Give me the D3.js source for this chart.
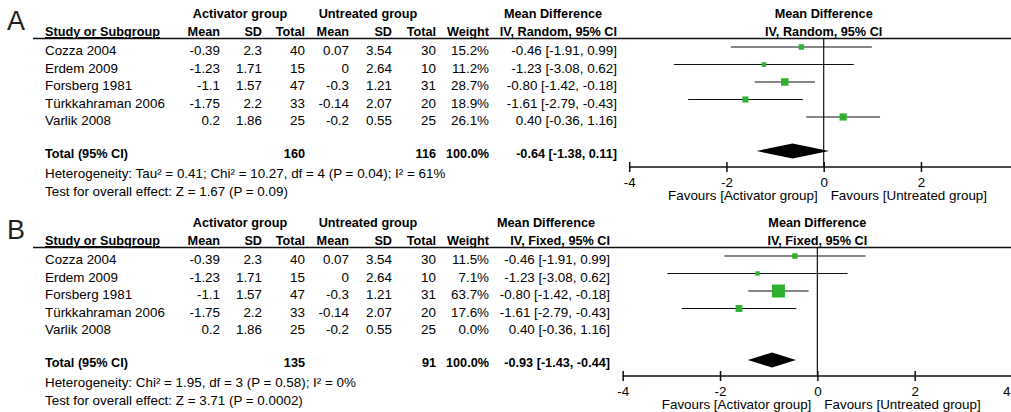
<!DOCTYPE html>
<html>
<head>
<meta charset="utf-8">
<script src="https://cdn.jsdelivr.net/npm/d3@7"></script>
<style>
  body { margin: 0; background: #fff; }
  svg { display: block; font-family: "Liberation Sans", Arial, sans-serif; font-size: 13.4px; fill: #000; }
  .b { font-weight: bold; font-size: 12.7px; }
</style>
</head>
<body>
<svg id="chart" width="1011" height="412"></svg>
<script>
// study data (same five studies in both panels)
var studies = ["Cozza 2004", "Erdem 2009", "Forsberg 1981", "Türkkahraman 2006", "Varlik 2008"];
var actMean = [-0.39, -1.23, -1.1, -1.75, 0.2];
var actSD   = [2.3, 1.71, 1.57, 2.2, 1.86];
var actN    = [40, 15, 47, 33, 25];
var untMean = [0.07, 0, -0.3, -0.14, -0.2];
var untSD   = [3.54, 2.64, 1.21, 2.07, 0.55];
var untN    = [30, 10, 31, 20, 25];
var md      = [-0.46, -1.23, -0.80, -1.61, 0.40];
var ciLow   = [-1.91, -3.08, -1.42, -2.79, -0.36];
var ciHigh  = [0.99, 0.62, -0.18, -0.43, 1.16];

// panel A: random effects
var weightsA = [15.2, 11.2, 28.7, 18.9, 26.1];
var totalA = { act: 160, unt: 116, md: -0.64, lo: -1.38, hi: 0.11 };
var hetA = "Heterogeneity: Tau² = 0.41; Chi² = 10.27, df = 4 (P = 0.04); I² = 61%";
var testA = "Test for overall effect: Z = 1.67 (P = 0.09)";

// panel B: fixed effect
var weightsB = [11.5, 7.1, 63.7, 17.6, 0.0];
var totalB = { act: 135, unt: 91, md: -0.93, lo: -1.43, hi: -0.44 };
var hetB = "Heterogeneity: Chi² = 1.95, df = 3 (P = 0.58); I² = 0%";
var testB = "Test for overall effect: Z = 3.71 (P = 0.0002)";

var ticks = [-4, -2, 0, 2, 4];

var svg = d3.select("#chart");

var fmt2 = function (v) { return v.toFixed(2); };
var ciText = function (m, lo, hi) { return fmt2(m) + " [" + fmt2(lo) + ", " + fmt2(hi) + "]"; };

function drawPanel(p) {
    var g = svg.append("g").attr("transform", "translate(0," + p.top + ")");

    // row positions (text baselines)
    var rowY = d3.scaleLinear().domain([0, 4]).range([55, 125]);
    var x = d3.scaleLinear().domain([-4, 4]).range(p.xRange);

    // panel letter
    g.append("text").attr("x", 7).attr("y", 30)
        .style("font-size", "27px").style("fill", "#231f20").text(p.label);

    // column headers
    g.append("text").attr("class", "b").attr("x", 240).attr("y", 18)
        .attr("text-anchor", "middle").text("Activator group");
    g.append("text").attr("class", "b").attr("x", 368).attr("y", 18)
        .attr("text-anchor", "middle").text("Untreated group");
    g.append("text").attr("class", "b").attr("x", p.mdRight - 64).attr("y", 18)
        .attr("text-anchor", "middle").text("Mean Difference");

    g.append("text").attr("class", "b").attr("x", 45).attr("y", 36)
        .style("text-decoration", "underline").text("Study or Subgroup");
    var cols = [
        ["Mean", 220], ["SD", 262], ["Total", 305],
        ["Mean", 349], ["SD", 392], ["Total", 436],
        ["Weight", 489], [p.mdLabel, p.mdRight]
    ];
    cols.forEach(function (c) {
        g.append("text").attr("class", "b").attr("x", c[1]).attr("y", 36)
            .attr("text-anchor", "end").text(c[0]);
    });

    // plot headers
    g.append("text").attr("class", "b").attr("x", x(0)).attr("y", 18)
        .attr("text-anchor", "middle").text("Mean Difference");
    g.append("text").attr("class", "b").attr("x", x(0)).attr("y", 36)
        .attr("text-anchor", "middle").text(p.mdLabel);

    // header rule
    g.append("line").attr("x1", 33).attr("x2", 1011).attr("y1", 38.5).attr("y2", 38.5)
        .attr("stroke", "#111").attr("stroke-width", 1.5);

    // study rows
    studies.forEach(function (s, i) {
        var y = rowY(i);
        g.append("text").attr("x", 45).attr("y", y).text(s);
        var vals = [
            [String(actMean[i]), 220], [String(actSD[i]), 262], [String(actN[i]), 305],
            [String(untMean[i]), 349], [String(untSD[i]), 392], [String(untN[i]), 436],
            [p.weights[i].toFixed(1) + "%", 489], [ciText(md[i], ciLow[i], ciHigh[i]), p.mdRight]
        ];
        vals.forEach(function (v) {
            g.append("text").attr("x", v[1]).attr("y", y).attr("text-anchor", "end").text(v[0]);
        });
    });

    // totals
    var ty = 158;
    g.append("text").attr("class", "b").attr("x", 45).attr("y", ty).text("Total (95% CI)");
    [[String(p.total.act), 305], [String(p.total.unt), 436], ["100.0%", 489],
     [ciText(p.total.md, p.total.lo, p.total.hi), p.mdRight]].forEach(function (v) {
        g.append("text").attr("class", "b").attr("x", v[1]).attr("y", ty)
            .attr("text-anchor", "end").text(v[0]);
    });
    g.append("text").attr("x", 45).attr("y", 178).text(p.het);
    g.append("text").attr("x", 45).attr("y", 196).text(p.test);

    // forest plot
    var axisY = 167;
    g.append("line").attr("x1", x(0)).attr("x2", x(0)).attr("y1", 38.5).attr("y2", axisY)
        .attr("stroke", "#111").attr("stroke-width", 1.2);

    var size = d3.scaleSqrt().domain([0, d3.max(p.weights)]).range([0, p.maxBox]);
    var markY = function (i) { return rowY(i) - 8; };

    studies.forEach(function (s, i) {
        if (p.weights[i] <= 0) return;
        g.append("line")
            .attr("x1", x(ciLow[i])).attr("x2", x(ciHigh[i]))
            .attr("y1", markY(i)).attr("y2", markY(i))
            .attr("stroke", "#111").attr("stroke-width", 1.2);
        var sz = Math.max(3.5, size(p.weights[i]));
        g.append("rect")
            .attr("x", x(md[i]) - sz / 2).attr("y", markY(i) - sz / 2)
            .attr("width", sz).attr("height", sz)
            .attr("fill", "#2fb12f");
    });

    // pooled diamond
    var dy = ty - 7;
    g.append("path")
        .attr("d", "M" + x(p.total.lo) + "," + dy +
                   "L" + x(p.total.md) + "," + (dy - 7.5) +
                   "L" + x(p.total.hi) + "," + dy +
                   "L" + x(p.total.md) + "," + (dy + 7.5) + "Z")
        .attr("fill", "#000");

    // x axis (ticks that fall past the page edge are not shown, as in the reference)
    var shown = ticks.filter(function (t) { return x(t) <= 1013; });
    var ax = g.append("g").attr("transform", "translate(0," + axisY + ")")
        .call(d3.axisBottom(x).tickValues(shown).tickSize(5).tickPadding(5)
            .tickFormat(function (d) { return String(d); }));
    ax.select(".domain").remove();
    ax.append("line").attr("x1", x(-4)).attr("x2", 1011).attr("y1", 0).attr("y2", 0)
        .attr("stroke", "#111").attr("stroke-width", 1.5);
    ax.selectAll(".tick line").attr("y1", -5).attr("y2", 5)
        .attr("stroke", "#111").attr("stroke-width", 1.5);
    ax.selectAll(".tick text")
        .style("font-family", "Liberation Sans, Arial, sans-serif")
        .style("font-size", "13.4px").attr("fill", "#000")
        // keep the right-most label inside the page
        .attr("text-anchor", function (d) { return x(d) > 1004 ? "end" : "middle"; })
        .attr("x", function (d) { return x(d) > 1004 ? 1010 - x(d) : 0; });

    g.append("text").attr("x", x(0) - 6).attr("y", 200)
        .attr("text-anchor", "end").text("Favours [Activator group]");
    g.append("text").attr("x", x(0) + 7).attr("y", 200)
        .text("Favours [Untreated group]");
}

drawPanel({ label: "A", top: 0, weights: weightsA, total: totalA, het: hetA, test: testA,
            mdLabel: "IV, Random, 95% CI", mdRight: 617, xRange: [629.2, 1018.2], maxBox: 7.5 });
drawPanel({ label: "B", top: 209, weights: weightsB, total: totalB, het: hetB, test: testB,
            mdLabel: "IV, Fixed, 95% CI", mdRight: 610, xRange: [622.7, 1012], maxBox: 13 });
</script>
</body>
</html>
